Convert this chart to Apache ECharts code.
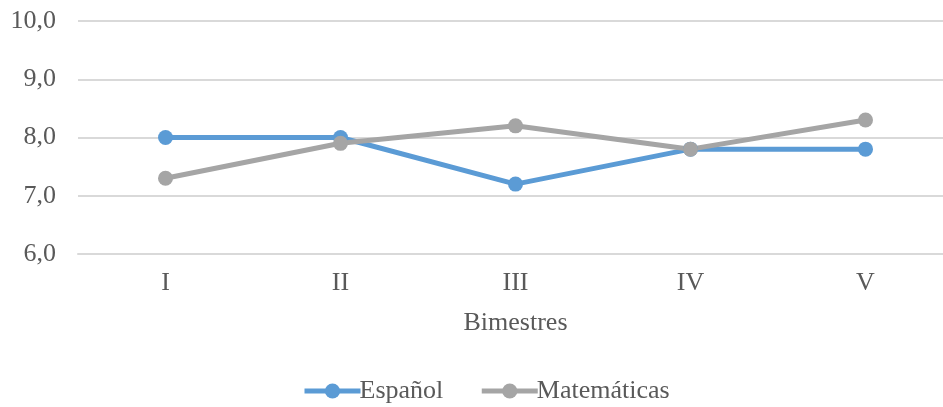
<!DOCTYPE html>
<html><head><meta charset="utf-8">
<script src="https://cdn.jsdelivr.net/npm/echarts@6/dist/echarts.min.js"></script>
<style>html,body{margin:0;padding:0;background:#fff;overflow:hidden;width:943px;height:407px}#c{width:953px;height:407px}</style>
</head><body><div id="c"></div>
<script>
var categories = ['I', 'II', 'III', 'IV', 'V'];
var espanol = [8.0, 8.0, 7.2, 7.8, 7.8];
var matematicas = [7.3, 7.9, 8.2, 7.8, 8.3];
var seriesNames = ['Español', 'Matemáticas'];
var xName = 'Bimestres';

var font = 'Liberation Serif';
var txt = '#595959';
var chart = echarts.init(document.getElementById('c'), null, {renderer: 'canvas'});
chart.setOption({
  animation: false,
  textStyle: {fontFamily: font},
  grid: {left: 78, top: 21, width: 875, height: 233, containLabel: false},
  legend: {
    left: 297, top: 373, itemWidth: 56, itemHeight: 19, itemGap: 36,
    lineStyle: {width: 5},
    textStyle: {fontFamily: font, fontSize: 26, color: txt, padding: [0, 0, 0, -6]},
    data: seriesNames
  },
  xAxis: {
    type: 'category', data: categories, boundaryGap: true,
    name: xName, nameLocation: 'middle', nameGap: 56,
    nameTextStyle: {fontFamily: font, fontSize: 26, color: txt},
    axisLine: {show: true, lineStyle: {color: '#D9D9D9', width: 2}},
    axisTick: {show: false},
    axisLabel: {fontFamily: font, fontSize: 26, color: txt, margin: 16}
  },
  yAxis: {
    type: 'value', min: 6, max: 10, interval: 1,
    axisLine: {show: false}, axisTick: {show: false},
    axisLabel: {fontFamily: font, fontSize: 26, color: txt, margin: 22,
      formatter: function (v) { return v.toFixed(1).replace('.', ','); }},
    splitLine: {lineStyle: {color: '#D9D9D9', width: 2}}
  },
  series: [
    {name: seriesNames[0], type: 'line', data: espanol, symbol: 'circle', symbolSize: 15,
     itemStyle: {color: '#5B9BD5'}, lineStyle: {color: '#5B9BD5', width: 5}},
    {name: seriesNames[1], type: 'line', data: matematicas, symbol: 'circle', symbolSize: 15,
     itemStyle: {color: '#A5A5A5'}, lineStyle: {color: '#A5A5A5', width: 5}}
  ]
});
</script></body></html>
